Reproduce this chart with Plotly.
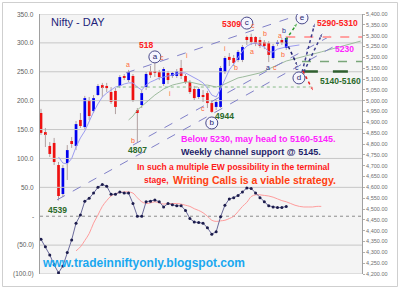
import plotly.graph_objects as go

# ---------------- data ----------------
bar_index = list(range(57))
opens = [4943, 4855, 4791, 4805, 4703, 4569, 4712, 4814, 4791, 4911, 4878, 5003, 4952, 5026, 5072, 5068,
         5040, 5045, 5068, 5114, 5095, 5114, 4957, 4980, 5063, 5137, 5137, 5132, 5077, 5128, 5114, 5114,
         5151, 5114, 5086, 5054, 5017, 5026, 5035, 4989, 4971, 4971, 5132, 5202, 5197, 5188, 5188, 5294,
         5294, 5294, 5280, 5271, 5266, 5197, 5262, 5280, 5243]
highs = [4962, 4874, 4809, 4828, 4717, 4703, 4795, 4832, 4906, 4943, 5022, 5017, 5026, 5077, 5082, 5082,
         5063, 5058, 5118, 5123, 5142, 5123, 4966, 5049, 5132, 5160, 5181, 5142, 5155, 5137, 5132, 5146,
         5188, 5123, 5095, 5068, 5063, 5049, 5045, 5003, 5003, 5160, 5206, 5220, 5211, 5234, 5257, 5300,
         5309, 5298, 5294, 5280, 5275, 5262, 5280, 5289, 5298]
lows = [4842, 4786, 4740, 4703, 4539, 4555, 4634, 4782, 4772, 4874, 4869, 4911, 4943, 5022, 5017, 5040,
        4985, 4938, 5058, 5095, 5086, 4994, 4807, 4966, 5049, 5105, 5109, 5095, 5068, 5077, 5105, 5105,
        5100, 5077, 5031, 5003, 5008, 4994, 4966, 4944, 4957, 4966, 5123, 5160, 5160, 5178, 5178, 5257,
        5257, 5252, 5243, 5238, 5178, 5188, 5252, 5257, 5234]
closes = [4851, 4846, 4754, 4717, 4560, 4689, 4772, 4800, 4892, 4883, 5012, 4929, 5012, 5068, 5063, 5058,
          4994, 4971, 5109, 5105, 5132, 5003, 4943, 5035, 5123, 5118, 5128, 5109, 5146, 5095, 5128, 5137,
          5114, 5086, 5040, 5012, 5054, 5017, 4989, 4948, 4994, 5151, 5197, 5188, 5174, 5225, 5248, 5280,
          5271, 5262, 5252, 5252, 5211, 5252, 5271, 5266, 5289]

osc_values = [-40, -53, -67, -84, -98, -86, -63, -41, -12, 2, 26, 31, 40, 50, 55, 52, 38, 38, 42, 40, 40, 22,
              0, 0, 25, 26, 28, 25, 16, 22, 20, 18, 18, 10, -4, -10, -11, -12, -20, -31, -27, -1, 19, 30,
              32, 36, 42, 49, 48, 40, 32, 25, 18, 16, 15, 15, 17]

signal_index = list(range(8, 65))
signal_values = [-60, -53, -42, -30, -12, 2, 17, 27, 35, 39, 41, 42, 42, 40, 32, 25, 22, 23, 25, 23, 21, 22,
                 22, 22, 21, 19, 17, 13, 10, 6, 0, -7, -9, -8, -7, -4, 0, 8, 17, 24, 34, 37, 37, 36, 35,
                 33, 30, 27, 25, 22, 19, 17, 16, 16, 16, 17, 17]

ma_fast_index = list(range(4, 57)) + [59]
ma_fast_values = [4740, 4712, 4708, 4733, 4786, 4828, 4860, 4906, 4948, 4985, 5017, 5035, 5049, 5063, 5068,
                  5077, 5082, 5082, 5063, 5049, 5072, 5086, 5095, 5105, 5109, 5114, 5118, 5123, 5128, 5128,
                  5118, 5105, 5095, 5082, 5058, 5026, 5017, 5054, 5095, 5142, 5169, 5202, 5229, 5252, 5262,
                  5266, 5257, 5248, 5225, 5225, 5238, 5243, 5248, 5257]

ma_slow_index = list(range(20, 57)) + [64, 73]
ma_slow_values = [4911, 4929, 4957, 4975, 4994, 5012, 5026, 5040, 5054, 5063, 5072, 5077, 5082, 5086, 5086,
                  5082, 5077, 5072, 5072, 5068, 5063, 5068, 5077, 5086, 5095, 5105, 5109, 5114, 5118, 5123,
                  5128, 5137, 5146, 5155, 5165, 5174, 5183, 5225, 5275]

# trend / channel lines (bar index, price)
upper_channel_x = [19.4, 58.2]
upper_channel_p = [5128, 5391]
lower_channel1_x = [3.65, 68.3]
lower_channel1_p = [4542, 5266]
lower_channel2_x = [21.0, 66.0]
lower_channel2_p = [4795, 5298]

# projection arrows
arrow_green_x = [55.9, 58.7]
arrow_green_p = [5280, 5363]
arrow_navy_down_x = [55.9, 58.7]
arrow_navy_down_p = [5275, 5155]
arrow_navy_up1_x = [59.6, 62.6]
arrow_navy_up1_p = [5132, 5363]
arrow_navy_up2_x = [60.0, 64.4]
arrow_navy_up2_p = [5132, 5317]
arrow_red_x = [59.8, 62.3]
arrow_red_p = [5137, 5040]

# horizontal levels
level_pink_x = [56, 73.3]
level_pink_p = [5294, 5294]
level_green_x = [59.6, 73.3]
level_green_p = [5181, 5181]
level_dkgreen_x = [59.8, 73.3]
level_dkgreen_p = [5135, 5135]
level_dotted_x = [17.3, 62.4]
level_dotted_p = [5063, 5063]

# wave circles
circle_labels = ["a", "c", "e", "d", "b"]
circle_x = [26.0, 47.0, 59.6, 58.9, 39.0]
circle_p = [5202, 5358, 5382, 5105, 4897]

left_ticks = [350, 300, 250, 200, 150, 100, 50, 0, -50, -100]
left_tick_labels = ["350.0", "300.0", "250.0", "200.0", "150.0", "100.0", "50.0", "-", "(50.0)", "(100.0)"]

# the two scales share the plot height: oscillator -100..350  <->  price 4200..5400
OSC_MIN, OSC_MAX = -100, 350
P_MIN, P_MAX = 4200, 5400


def osc_to_price(v):
    return P_MIN + (v - OSC_MIN) * (P_MAX - P_MIN) / (OSC_MAX - OSC_MIN)


FONT = "Liberation Sans, Arial, sans-serif"
X0, X1 = -0.23, 73.3

fig = go.Figure()

# gridlines of the oscillator scale
for v in left_ticks:
    pv = osc_to_price(v)
    fig.add_trace(go.Scatter(x=[X0, X1], y=[pv, pv], mode="lines", hoverinfo="skip",
                             line=dict(color="#8c8c8c" if v == 0 else "#c6c6c6", width=1,
                                       dash="dot" if v == 0 else "solid")))

# oscillator + signal
fig.add_trace(go.Scatter(x=signal_index, y=[osc_to_price(v) for v in signal_values], mode="lines",
                         line=dict(color="#ff9c9c", width=1, shape="spline"), hoverinfo="skip"))
fig.add_trace(go.Scatter(x=bar_index, y=[osc_to_price(v) for v in osc_values], mode="lines+markers",
                         line=dict(color="#6a6a9a", width=1), marker=dict(color="#1c1c4c", size=3), hoverinfo="skip"))

# candle bodies
body_base = [min(o, c) for o, c in zip(opens, closes)]
body_h = [max(abs(c - o), 4) for o, c in zip(opens, closes)]
body_col = ["#0000ee" if c >= o else "#ee1111" for o, c in zip(opens, closes)]
fig.add_trace(go.Bar(x=bar_index, y=body_h, base=body_base, marker=dict(color=body_col, line=dict(width=0)),
                     width=0.62, hoverinfo="skip"))

# wicks
wx, wy = [], []
for i, o, h, l, c in zip(bar_index, opens, highs, lows, closes):
    top, bot = max(o, c), min(o, c)
    wx += [i, i, None, i, i, None]
    wy += [h, top, None, bot, l, None]
fig.add_trace(go.Scatter(x=wx, y=wy, mode="lines", line=dict(color="#b0a0a0", width=1),
                         hoverinfo="skip", connectgaps=False))

# moving averages
fig.add_trace(go.Scatter(x=ma_slow_index, y=ma_slow_values, mode="lines", line=dict(color="#9dbb9d", width=1),
                         hoverinfo="skip"))
fig.add_trace(go.Scatter(x=ma_fast_index, y=ma_fast_values, mode="lines", line=dict(color="#9c9cf0", width=1),
                         hoverinfo="skip"))

# channel lines
for xs, ps in [(upper_channel_x, upper_channel_p), (lower_channel1_x, lower_channel1_p),
               (lower_channel2_x, lower_channel2_p)]:
    fig.add_trace(go.Scatter(x=xs, y=ps, mode="lines", line=dict(color="#8080c8", width=1, dash="dash"),
                             hoverinfo="skip"))

# horizontal levels
fig.add_trace(go.Scatter(x=level_dotted_x, y=level_dotted_p, mode="lines", line=dict(color="#88bb88", width=1, dash="dot"),
                         hoverinfo="skip"))
fig.add_trace(go.Scatter(x=level_pink_x, y=level_pink_p, mode="lines", line=dict(color="#ffa0a0", width=2, dash="dash"),
                         hoverinfo="skip"))
fig.add_trace(go.Scatter(x=level_green_x, y=level_green_p, mode="lines", line=dict(color="#7aa67a", width=1.5, dash="dash"),
                         hoverinfo="skip"))
fig.add_trace(go.Scatter(x=level_dkgreen_x, y=level_dkgreen_p, mode="lines", line=dict(color="#2f5f2f", width=2.5, dash="longdash"),
                         hoverinfo="skip"))

# arrows
for xs, ps, col in [(arrow_green_x, arrow_green_p, "#2a9a2a"), (arrow_navy_down_x, arrow_navy_down_p, "#1c1c6c"),
                    (arrow_navy_up1_x, arrow_navy_up1_p, "#3c3c8c"), (arrow_navy_up2_x, arrow_navy_up2_p, "#3c3c8c"),
                    (arrow_red_x, arrow_red_p, "#ee2020")]:
    fig.add_trace(go.Scatter(x=xs, y=ps, mode="lines+markers", line=dict(color=col, width=1.5, dash="dot"),
                             marker=dict(symbol=["circle", "arrow"], size=[0, 6], angleref="previous", color=col),
                             hoverinfo="skip"))

# wave circles
fig.add_trace(go.Scatter(x=circle_x, y=circle_p, mode="markers+text", text=circle_labels, textposition="middle center",
                         textfont=dict(family=FONT, size=8, color="#1c1c6c"),
                         marker=dict(symbol="circle", size=12, color="rgba(245,245,255,0.9)", line=dict(color="#4a4a8a", width=1)),
                         hoverinfo="skip"))

ann = []


def dlabel(text, x, p, color, size=7, bold=False):
    t = f"<b>{text}</b>" if bold else text
    ann.append(dict(text=t, x=x, y=p, xref="x", yref="y", showarrow=False,
                    font=dict(family=FONT, size=size, color=color), xanchor="center", yanchor="middle"))


OR = "#ff6a3a"
NV = "#2a2a8a"
for t, x, p in [("a", 19.9, 5169), ("c", 27.6, 5197), ("i", 33.3, 5208), ("b", 21.0, 4814), ("i", 29.5, 5031),
                ("c", 37.0, 4966), ("i", 42.0, 5243), ("b", 44.5, 5151), ("c", 48.4, 5349), ("b", 51.1, 5312),
                ("a", 48.2, 5225), ("a", 54.6, 5303), ("b", 55.3, 5211), ("c", 53.4, 5155)]:
    dlabel(t, x, p, OR, 7)
for t, x, p in [("b", 55.4, 5323), ("a", 51.8, 5151), ("c", 58.4, 5151)]:
    dlabel(t, x, p, NV, 7)

RED = "#ff2020"
DG = "#2a6a2a"
dlabel("518", 24.0, 5257, RED, 8.5, True)
dlabel("5309", 43.6, 5354, RED, 8.5, True)
dlabel("5290-5310", 67.8, 5358, RED, 8.5, True)
dlabel("5230", 69.3, 5238, "#ff22ff", 8.5, True)
dlabel("5140-5160", 68.5, 5091, DG, 8.5, True)
dlabel("4944", 42.0, 4930, DG, 8.5, True)
dlabel("4807", 22.0, 4772, DG, 8.5, True)
dlabel("4539", 3.7, 4495, DG, 8.5, True)

# left (oscillator) tick labels
for v, t in zip(left_ticks, left_tick_labels):
    ann.append(dict(text=t, x=-0.012, y=osc_to_price(v), xref="paper", yref="y", showarrow=False,
                    xanchor="right", yanchor="middle", font=dict(family=FONT, size=6.5, color="#606060")))


def px_x(px):
    return (px - 40) / 322.0


def px_y(py):
    return (274 - py) / 260.0


def plabel(text, px, py, color, size, bold=False):
    t = f"<b>{text}</b>" if bold else text
    ann.append(dict(text=t, x=px_x(px), y=px_y(py), xref="paper", yref="paper", showarrow=False,
                    font=dict(family=FONT, size=size, color=color), xanchor="left", yanchor="middle", borderpad=0))


plabel("Nifty - DAY", 50, 22, "#1f1f7a", 11)
plabel("Below 5230, may head to 5160-5145.", 180, 139, "#ff22ff", 9, True)
plabel("Weekly channel support @ 5145.", 180, 152, "#1f1f6a", 9, True)
plabel("In such a multiple EW possibility in the terminal", 136, 167, "#ff1a1a", 8.5, True)
plabel("stage,", 143, 180, "#ff1a1a", 8.5, True)
plabel("Writing Calls is a viable strategy.", 172, 180, "#ff4010", 10.5, True)
plabel("www.tradeinniftyonly.blogspot.com", 41, 263, "#1aa8f0", 12, True)

shapes = [dict(type="rect", xref="paper", yref="paper", x0=px_x(2.5), x1=px_x(397.5), y0=px_y(286.5), y1=px_y(2.5),
               line=dict(color="#cfcfcf", width=1))]

fig.update_layout(
    width=400, height=292, margin=dict(l=40, r=38, t=14, b=18),
    paper_bgcolor="white", plot_bgcolor="#f4f4f4", showlegend=False, barmode="overlay",
    font=dict(family=FONT),
    xaxis=dict(range=[X0, X1], showticklabels=False, showgrid=False, zeroline=False, ticks="",
               showline=False),
    yaxis=dict(range=[P_MIN, P_MAX], side="right", tick0=4200, dtick=50, tickformat=",.2f",
               showgrid=False, zeroline=False, tickfont=dict(size=5.5, color="#707070"), showline=True,
               mirror=True, linecolor="#a0a0a0", linewidth=1, ticks="outside", ticklen=2, tickcolor="#b0b0b0"),
    annotations=ann, shapes=shapes,
)

fig.write_html("out.html")
